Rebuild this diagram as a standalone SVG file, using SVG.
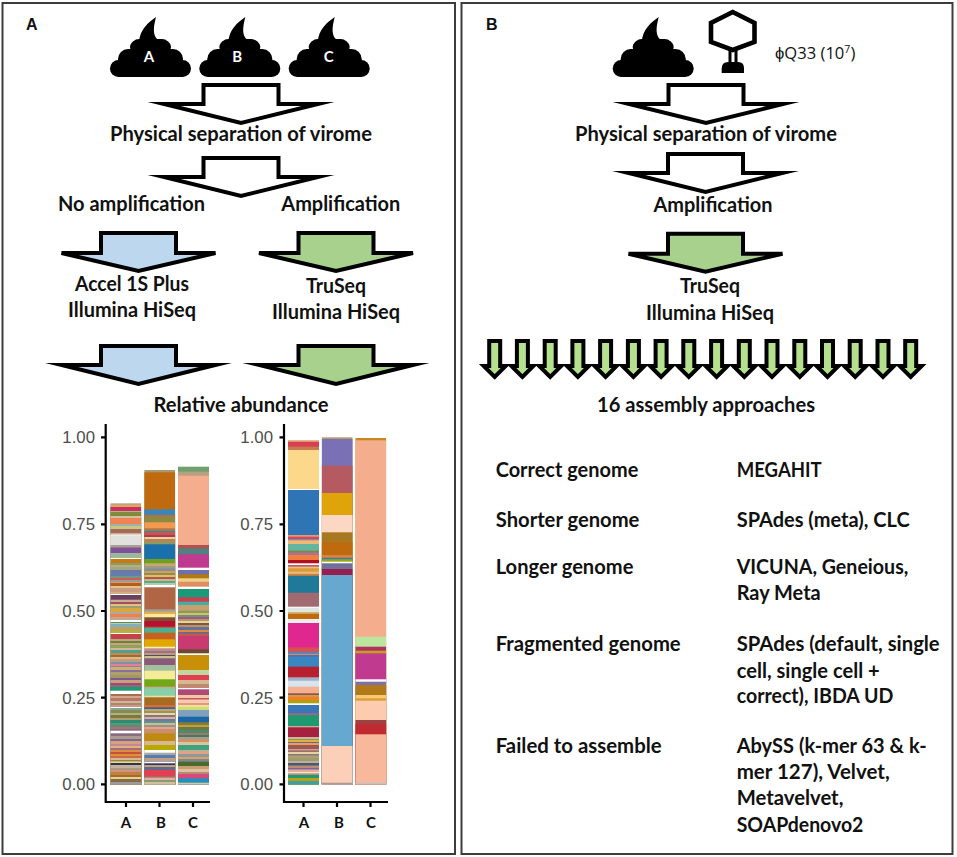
<svg xmlns="http://www.w3.org/2000/svg" width="957" height="857" viewBox="0 0 957 857">
<style>
text{font-family:"Lato","Open Sans",sans-serif;font-weight:700;font-size:20px;fill:#111;stroke:none}
.m{text-anchor:middle}
.p{font-family:"Liberation Sans",Arial,sans-serif;font-size:16px}
.w{fill:#fff;font-size:15px}
.y{font-family:"Liberation Sans",Arial,sans-serif;font-weight:400;font-size:16.8px;fill:#4d4d4d;text-anchor:end}
.x{font-size:15px;text-anchor:middle}
.f{fill:none;stroke:#3c3c3c;stroke-width:2}
.a{stroke:#000;stroke-width:4;stroke-miterlimit:12}
.q{stroke-miterlimit:3}
.n{fill:#fff}.b{fill:#bdd7ee}.g{fill:#a9d18e}.l{fill:#b5e08e}
.ax{fill:none;stroke:#000;stroke-width:2.2}
.s rect{width:31px;height:400px}
</style>
<defs>
<path id="big" d="M-37.5 2H37.5V21H77L0 40-77 21H-37.5Z"/>
<path id="nar" d="M-37.5 2H37.5V22H77L0 40-77 22H-37.5Z"/>
<path id="thin" d="M-5.5 2H5.5V27H11L0 38-11 27H-5.5Z"/>
<g id="poop">
<rect x="0" y="43" width="81" height="17" rx="8.5"/>
<rect x="8" y="32" width="65" height="22" rx="10"/>
<circle cx="14" cy="44" r="6"/><circle cx="67" cy="44" r="6"/>
<rect x="21" y="22" width="39" height="20" rx="8"/>
<circle cx="26" cy="30" r="6"/><circle cx="55" cy="30" r="6"/>
<path d="M29 25C30 12 38 6 46 0C44 8 43 14 45 19C46 22 49 23 52 25Z"/>
</g>
<clipPath id="c"><rect x="0" y="0" width="31" height="784.5"/></clipPath>
</defs>
<rect width="957" height="857" fill="#fff"/>
<g id="panel-a-frame"><rect class="f" x="2.5" y="3" width="452.5" height="851"/></g>
<g id="panel-b-frame"><rect class="f" x="461.5" y="3" width="491" height="851"/></g>

<g id="sample-a" transform="translate(110 17)"><use href="#poop"/><text class="m w" x="39" y="45">A</text></g>
<g id="sample-b" transform="translate(199.3 17)"><use href="#poop"/><text class="m w" x="38" y="45">B</text></g>
<g id="sample-c" transform="translate(288.7 17)"><use href="#poop"/><text class="m w" x="40" y="45">C</text></g>
<g id="sample-mix" transform="translate(612.7 17)"><use href="#poop"/></g>
<g id="phage">
<path d="M732.7 12L754.5 23V42L732.7 50L711 42V23Z" fill="none" stroke="#000" stroke-width="4.6"/>
<path d="M730 50V63M736 50V63" stroke="#000" stroke-width="3" fill="none"/>
<path d="M721.7 73V68Q722 62 728 62H738Q744 62 744 68V73Z"/>
<text x="775" y="59" style="font-family:'Open Sans',sans-serif;font-weight:400;font-size:16.6px">ϕQ33 (10<tspan dy="-6" font-size="10.5">7</tspan><tspan dy="6">)</tspan></text>
</g>

<g id="labels-a">
<text class="p" x="26" y="30">A</text>
<text class="m" x="241" y="141" textLength="262" lengthAdjust="spacingAndGlyphs">Physical separation of virome</text>
<text class="m" x="131.5" y="211" textLength="147" lengthAdjust="spacingAndGlyphs">No amplification</text>
<text class="m" x="340.8" y="211" textLength="119" lengthAdjust="spacingAndGlyphs">Amplification</text>
<text class="m" x="132" y="291" textLength="114" lengthAdjust="spacingAndGlyphs">Accel 1S Plus</text>
<text class="m" x="132" y="317" textLength="128" lengthAdjust="spacingAndGlyphs">Illumina HiSeq</text>
<text class="m" x="336" y="293" textLength="60" lengthAdjust="spacingAndGlyphs">TruSeq</text>
<text class="m" x="336" y="319" textLength="128" lengthAdjust="spacingAndGlyphs">Illumina HiSeq</text>
<text class="m" x="241" y="412" textLength="175" lengthAdjust="spacingAndGlyphs">Relative abundance</text>
</g>
<g id="labels-b">
<text class="p" x="486" y="30">B</text>
<text class="m" x="706" y="141" textLength="262" lengthAdjust="spacingAndGlyphs">Physical separation of virome</text>
<text class="m" x="713" y="211.5" textLength="119" lengthAdjust="spacingAndGlyphs">Amplification</text>
<text class="m" x="710" y="293" textLength="60" lengthAdjust="spacingAndGlyphs">TruSeq</text>
<text class="m" x="710" y="320" textLength="128" lengthAdjust="spacingAndGlyphs">Illumina HiSeq</text>
<text class="m" x="706" y="411.5" textLength="218" lengthAdjust="spacingAndGlyphs">16 assembly approaches</text>
</g>
<g id="table">
<text x="495.7" y="477" textLength="142.6" lengthAdjust="spacingAndGlyphs">Correct genome</text>
<text x="495.7" y="526.7" textLength="143.7" lengthAdjust="spacingAndGlyphs">Shorter genome</text>
<text x="495.7" y="574" textLength="137.7" lengthAdjust="spacingAndGlyphs">Longer genome</text>
<text x="495.7" y="651" textLength="185" lengthAdjust="spacingAndGlyphs">Fragmented genome</text>
<text x="495.7" y="752.7" textLength="166" lengthAdjust="spacingAndGlyphs">Failed to assemble</text>
<text x="736.7" y="477" textLength="85" lengthAdjust="spacingAndGlyphs">MEGAHIT</text>
<text x="736.7" y="526.7" textLength="173" lengthAdjust="spacingAndGlyphs">SPAdes (meta), CLC</text>
<text x="736.7" y="574" textLength="171.7" lengthAdjust="spacingAndGlyphs">VICUNA, Geneious,</text>
<text x="736.7" y="600" textLength="84" lengthAdjust="spacingAndGlyphs">Ray Meta</text>
<text x="736.7" y="651" textLength="203" lengthAdjust="spacingAndGlyphs">SPAdes (default, single</text>
<text x="736.7" y="677.7" textLength="143" lengthAdjust="spacingAndGlyphs">cell, single cell +</text>
<text x="736.7" y="703" textLength="156.7" lengthAdjust="spacingAndGlyphs">correct), IBDA UD</text>
<text x="736.7" y="752.7" textLength="190" lengthAdjust="spacingAndGlyphs">AbySS (k-mer 63 &amp; k-</text>
<text x="736.7" y="779" textLength="153" lengthAdjust="spacingAndGlyphs">mer 127), Velvet,</text>
<text x="736.7" y="805" textLength="106.7" lengthAdjust="spacingAndGlyphs">Metavelvet,</text>
<text x="736.7" y="831.7" textLength="126.7" lengthAdjust="spacingAndGlyphs">SOAPdenovo2</text>
</g>

<g id="connectors" class="a">
<use href="#big" class="n" x="241" y="83"/>
<use href="#big" class="n" x="241" y="156"/>
<use href="#nar" class="b q" x="138.5" y="231"/>
<use href="#nar" class="g q" x="336" y="231"/>
<use href="#big" class="b" x="138.5" y="344"/>
<use href="#big" class="g" x="336" y="344"/>
<use href="#big" class="n" x="706" y="83"/>
<use href="#big" class="n" x="705.5" y="152"/>
<use href="#nar" class="g q" x="705.5" y="231.7"/>
<g class="l">
<use href="#thin" x="494.7" y="339"/><use href="#thin" x="522.4" y="339"/><use href="#thin" x="550.2" y="339"/><use href="#thin" x="577.9" y="339"/>
<use href="#thin" x="605.6" y="339"/><use href="#thin" x="633.4" y="339"/><use href="#thin" x="661.1" y="339"/><use href="#thin" x="688.8" y="339"/>
<use href="#thin" x="716.6" y="339"/><use href="#thin" x="744.3" y="339"/><use href="#thin" x="772" y="339"/><use href="#thin" x="799.8" y="339"/>
<use href="#thin" x="827.5" y="339"/><use href="#thin" x="855.2" y="339"/><use href="#thin" x="883" y="339"/><use href="#thin" x="910.7" y="339"/>
</g>
</g>

<g id="chart-left">
<g class="s" clip-path="url(#c)" transform="translate(110.3 0)">
<rect y="503.3" fill="#b9a292"/><rect y="505" fill="#dfa94c"/><rect y="507" fill="#cf2b66"/><rect y="511" fill="#a5bb82"/><rect y="512" fill="#7f8a3c"/><rect y="516" fill="#cfc0a0"/><rect y="518" fill="#ef8354"/><rect y="524" fill="#9fb0b0"/><rect y="526" fill="#c9c97e"/><rect y="529" fill="#a56a5a"/><rect y="533" fill="#c9b08e"/><rect y="534.5" fill="#f7f7f2"/><rect y="535.5" fill="#e1e1de"/><rect y="545" fill="#a8a090"/><rect y="547.5" fill="#80509a"/><rect y="553" fill="#9cb89c"/><rect y="558" fill="#fff"/><rect y="559" fill="#c87a10"/><rect y="563" fill="#7fa070"/><rect y="565" fill="#c8a870"/><rect y="567" fill="#8fae8f"/><rect y="569" fill="#b0a070"/><rect y="570" fill="#6a78a8"/><rect y="574" fill="#5f7fb0"/><rect y="576" fill="#6f9a80"/><rect y="578" fill="#d05a5a"/><rect y="580" fill="#9a9a9a"/><rect y="582" fill="#e09a60"/><rect y="583" fill="#b0601a"/><rect y="586" fill="#e6c090"/><rect y="588" fill="#c89a80"/><rect y="592" fill="#d0b080"/><rect y="594" fill="#fff"/><rect y="595" fill="#6a4060"/><rect y="599" fill="#8a5a78"/><rect y="600" fill="#c8b090"/><rect y="602" fill="#a05060"/><rect y="604" fill="#e0c080"/><rect y="606" fill="#9aa070"/><rect y="608" fill="#d8a840"/><rect y="612" fill="#b0a8a0"/><rect y="614" fill="#f08050"/><rect y="617" fill="#c0a890"/><rect y="620" fill="#fff"/><rect y="622" fill="#2f9a78"/><rect y="623" fill="#e0c090"/><rect y="624" fill="#7fb0c0"/><rect y="627" fill="#c0a060"/><rect y="630" fill="#b5b040"/><rect y="633" fill="#fff"/><rect y="634" fill="#c8404a"/><rect y="639" fill="#a8b080"/><rect y="641" fill="#7a7a3a"/><rect y="643" fill="#c0a878"/><rect y="645" fill="#8fa060"/><rect y="648" fill="#d0b890"/><rect y="650" fill="#4fa090"/><rect y="653" fill="#c08a50"/><rect y="655" fill="#a06a30"/><rect y="657" fill="#d8b890"/><rect y="659" fill="#e09a50"/><rect y="660" fill="#b0a090"/><rect y="662" fill="#8090a0"/><rect y="664" fill="#e080a0"/><rect y="666" fill="#a08090"/><rect y="667" fill="#c8b070"/><rect y="670" fill="#8a70a0"/><rect y="672" fill="#b0a070"/><rect y="675" fill="#a09a60"/><rect y="678" fill="#7a5a90"/><rect y="680" fill="#c8a080"/><rect y="683" fill="#a04a70"/><rect y="684" fill="#b0a890"/><rect y="686" fill="#3f8a70"/><rect y="683.3" fill="#a04a70"/><rect y="685" fill="#8a6a80"/><rect y="687" fill="#1f9a70"/><rect y="691" fill="#f4f4ee"/><rect y="690.7" fill="#f4f4ee"/><rect y="690.7" fill="#1f9a70"/><rect y="691" fill="#fff"/><rect y="690.7" fill="#fff"/><rect y="690.7" fill="#1f9a70"/><rect y="691" fill="#fff"/><rect y="694" fill="#a8704a"/><rect y="696" fill="#d0a890"/><rect y="698" fill="#b87a60"/><rect y="701" fill="#d8b0a0"/><rect y="703" fill="#a09060"/><rect y="705" fill="#d89090"/><rect y="707" fill="#fff"/><rect y="708" fill="#7aaa9a"/><rect y="710" fill="#8a8a50"/><rect y="713" fill="#b0b080"/><rect y="715" fill="#7a7a40"/><rect y="718" fill="#b0a070"/><rect y="720" fill="#2f8a70"/><rect y="723" fill="#4f9a80"/><rect y="725" fill="#6a8a60"/><rect y="727" fill="#a07090"/><rect y="729" fill="#8a6a70"/><rect y="731" fill="#b0a0a0"/><rect y="733" fill="#7a6a90"/><rect y="735" fill="#9a7a80"/><rect y="737" fill="#6a7aa0"/><rect y="738" fill="#9a7a80"/><rect y="731" fill="#8a6a70"/><rect y="733" fill="#7a6a90"/><rect y="735" fill="#9a7a80"/><rect y="731" fill="#b0a0a0"/><rect y="730.7" fill="#fff"/><rect y="733.3" fill="#8a6a80"/><rect y="736" fill="#b09a90"/><rect y="739" fill="#7a6a90"/><rect y="741" fill="#d8a080"/><rect y="744" fill="#c08a90"/><rect y="746" fill="#e0b080"/><rect y="748" fill="#a07080"/><rect y="750" fill="#e08a40"/><rect y="752" fill="#c8503a"/><rect y="754" fill="#e09030"/><rect y="756" fill="#c86a50"/><rect y="758" fill="#d8b890"/><rect y="760" fill="#9a7a60"/><rect y="761" fill="#b8b050"/><rect y="763" fill="#d8d060"/><rect y="764" fill="#8a8a60"/><rect y="765" fill="#e8d880"/><rect y="761.7" fill="#e8d880"/><rect y="763" fill="#283858"/><rect y="765" fill="#c8b0a0"/><rect y="768" fill="#a89a80"/><rect y="770" fill="#d09080"/><rect y="772" fill="#c08040"/><rect y="775" fill="#a86a20"/><rect y="777" fill="#e0d0a0"/><rect y="779" fill="#8a6a40"/><rect y="782" fill="#9a9aa0"/>
</g>
<g class="s" clip-path="url(#c)" transform="translate(144.2 0)">
<rect y="470" fill="#a89a70"/><rect y="472.3" fill="#c06a10"/><rect y="509.3" fill="#3a86b8"/><rect y="515" fill="#c06a40"/><rect y="516.7" fill="#8a8a40"/><rect y="522.3" fill="#f49a50"/><rect y="528.3" fill="#b07a40"/><rect y="530.7" fill="#5080a0"/><rect y="532" fill="#c05a50"/><rect y="535" fill="#c03050"/><rect y="537" fill="#c8e0a0"/><rect y="539" fill="#e07050"/><rect y="541" fill="#8a9a60"/><rect y="544.3" fill="#1a70aa"/><rect y="559" fill="#70a020"/><rect y="563.3" fill="#c8a870"/><rect y="566" fill="#a09a80"/><rect y="568.3" fill="#8090a0"/><rect y="571" fill="#d8a040"/><rect y="573" fill="#8a8a70"/><rect y="575" fill="#e8c040"/><rect y="577" fill="#a05a70"/><rect y="579" fill="#e0b070"/><rect y="581" fill="#4ab090"/><rect y="583" fill="#b8c8b0"/><rect y="585" fill="#fff"/><rect y="587.3" fill="#b06545"/><rect y="609.3" fill="#a0a0a0"/><rect y="611.7" fill="#e8b040"/><rect y="614" fill="#fce8a0"/><rect y="617.3" fill="#7a5030"/><rect y="621" fill="#b81030"/><rect y="626.7" fill="#a06a50"/><rect y="628" fill="#4ab090"/><rect y="632.7" fill="#c86020"/><rect y="639.3" fill="#e0a800"/><rect y="646.7" fill="#f8f0b0"/><rect y="648.3" fill="#c08a90"/><rect y="651" fill="#8a7a90"/><rect y="653" fill="#e09060"/><rect y="655" fill="#2f5a80"/><rect y="656" fill="#c8c090"/><rect y="658.3" fill="#8a5a78"/><rect y="665" fill="#a0c0a0"/><rect y="670.7" fill="#f5ec98"/><rect y="679.3" fill="#70a818"/><rect y="686.7" fill="#c8a890"/><rect y="688.3" fill="#85d0a8"/><rect y="695.7" fill="#e8e0a0"/><rect y="697.3" fill="#a86a20"/><rect y="705" fill="#e06a30"/><rect y="707.3" fill="#1a70aa"/><rect y="709" fill="#d0a060"/><rect y="711" fill="#a09060"/><rect y="713" fill="#e0d8b0"/><rect y="715" fill="#8a7a60"/><rect y="717" fill="#d0b0b0"/><rect y="719" fill="#8070a0"/><rect y="721" fill="#4f9a90"/><rect y="723" fill="#d8b890"/><rect y="725" fill="#8a9a90"/><rect y="727" fill="#f0a080"/><rect y="729" fill="#c89070"/><rect y="733.3" fill="#c08a10"/><rect y="741" fill="#d8b890"/><rect y="745" fill="#b8a800"/><rect y="750" fill="#fff"/><rect y="752.7" fill="#a8a8a8"/><rect y="755" fill="#5080b0"/><rect y="758" fill="#c89a80"/><rect y="761" fill="#6080a0"/><rect y="761.7" fill="#fff"/><rect y="763.3" fill="#283868"/><rect y="765" fill="#c8a070"/><rect y="767" fill="#606a90"/><rect y="770" fill="#e04050"/><rect y="776.7" fill="#a09080"/><rect y="778" fill="#e0b0a0"/><rect y="780" fill="#8a9a70"/><rect y="782" fill="#d0c0a0"/>
</g>
<g class="s" clip-path="url(#c)" transform="translate(178 0)">
<rect y="466.7" fill="#70a070"/><rect y="471.7" fill="#b8a080"/><rect y="475.7" fill="#f4ae8e"/><rect y="545" fill="#b05050"/><rect y="548.3" fill="#508080"/><rect y="554.3" fill="#c03a90"/><rect y="567.7" fill="#fff"/><rect y="570" fill="#7070b0"/><rect y="574.3" fill="#b07a10"/><rect y="578.3" fill="#f0d090"/><rect y="581.7" fill="#e09060"/><rect y="586.7" fill="#fff"/><rect y="589" fill="#1a9a78"/><rect y="597.3" fill="#c84050"/><rect y="601.7" fill="#40b0a0"/><rect y="605" fill="#c8a070"/><rect y="610.7" fill="#8a9a60"/><rect y="613" fill="#d8c060"/><rect y="615" fill="#5a9a80"/><rect y="617" fill="#c04a80"/><rect y="619" fill="#a0a070"/><rect y="621" fill="#f0d090"/><rect y="623" fill="#7a5a40"/><rect y="625" fill="#c09060"/><rect y="627" fill="#6070a0"/><rect y="630" fill="#e08a40"/><rect y="632" fill="#5070a0"/><rect y="633.3" fill="#c05a50"/><rect y="636" fill="#c83a70"/><rect y="649.3" fill="#6a4a30"/><rect y="653.3" fill="#fff"/><rect y="655" fill="#c89008"/><rect y="670" fill="#c0d8a0"/><rect y="675" fill="#e04050"/><rect y="680" fill="#d8b890"/><rect y="684" fill="#c08a70"/><rect y="688" fill="#fff"/><rect y="689.3" fill="#b04878"/><rect y="695" fill="#f0c8a0"/><rect y="698" fill="#c05a60"/><rect y="699.5" fill="#f8c8b0"/><rect y="703" fill="#e09a80"/><rect y="705" fill="#f0e0a0"/><rect y="707" fill="#d0e070"/><rect y="710" fill="#80a0c0"/><rect y="716.7" fill="#1a68a8"/><rect y="722.3" fill="#8a7a30"/><rect y="725" fill="#c0a040"/><rect y="727" fill="#6a7a40"/><rect y="730" fill="#4f8a70"/><rect y="733" fill="#a07a60"/><rect y="735" fill="#3f7a70"/><rect y="737" fill="#b09a80"/><rect y="740" fill="#e08a60"/><rect y="742" fill="#d0c8a0"/><rect y="745" fill="#40a080"/><rect y="750" fill="#c0b090"/><rect y="752" fill="#e8a080"/><rect y="754" fill="#8a9aa0"/><rect y="757" fill="#e0a060"/><rect y="759" fill="#7a8a90"/><rect y="761.7" fill="#4a6a30"/><rect y="766" fill="#c8a070"/><rect y="769" fill="#e0c0a0"/><rect y="772" fill="#b09070"/><rect y="774" fill="#d8487a"/><rect y="778.3" fill="#2090c0"/><rect y="782.7" fill="#d8c8a0"/>
</g>
<path class="ax" d="M105.7 424V802H210M101 437.3h4.7M101 524.3h4.7M101 611h4.7M101 697.7h4.7M101 784.3h4.7M126 802v5M159.5 802v5M193 802v5"/>
<text class="y" x="95" y="443">1.00</text><text class="y" x="95" y="530">0.75</text><text class="y" x="95" y="617">0.50</text><text class="y" x="95" y="704">0.25</text><text class="y" x="95" y="790">0.00</text>
<text class="x" x="126" y="828">A</text><text class="x" x="161" y="828">B</text><text class="x" x="193" y="828">C</text>
</g>

<g id="chart-right">
<g class="s" clip-path="url(#c)" transform="translate(288 0)">
<rect y="440" fill="#e8b88a"/><rect y="441.7" fill="#d8404f"/><rect y="446.7" fill="#c87a50"/><rect y="450" fill="#fcd98a"/><rect y="489" fill="#fff"/><rect y="490" fill="#2f74b5"/><rect y="535" fill="#d8a070"/><rect y="536.7" fill="#e84050"/><rect y="539" fill="#6a90c0"/><rect y="540.3" fill="#f0b870"/><rect y="544" fill="#64b5a0"/><rect y="550.7" fill="#7a8a40"/><rect y="552.3" fill="#b07090"/><rect y="555" fill="#f08040"/><rect y="560" fill="#b01020"/><rect y="563.3" fill="#fff"/><rect y="565" fill="#c06060"/><rect y="566.7" fill="#e0c090"/><rect y="568.3" fill="#e09a30"/><rect y="571.7" fill="#e0c090"/><rect y="573.7" fill="#e08030"/><rect y="575.7" fill="#1f7a9a"/><rect y="592.7" fill="#a06a70"/><rect y="606.7" fill="#fff"/><rect y="607.7" fill="#dfe5e0"/><rect y="612.3" fill="#d0a050"/><rect y="614" fill="#c06a10"/><rect y="619" fill="#eee"/><rect y="623" fill="#e0278f"/><rect y="647.3" fill="#d85050"/><rect y="651.7" fill="#6a80b0"/><rect y="654" fill="#c89070"/><rect y="655" fill="#5070b0"/><rect y="656.7" fill="#3a86c0"/><rect y="666.7" fill="#b82030"/><rect y="677.3" fill="#a0b0c8"/><rect y="680.7" fill="#d8e4ec"/><rect y="686.7" fill="#f4b090"/><rect y="693.3" fill="#8a5a40"/><rect y="695" fill="#d09a60"/><rect y="696.7" fill="#f08020"/><rect y="700" fill="#b0a010"/><rect y="703.3" fill="#fff"/><rect y="705" fill="#3878b8"/><rect y="713.3" fill="#b06080"/><rect y="715" fill="#1f9a70"/><rect y="726" fill="#c8b090"/><rect y="727.3" fill="#a82040"/><rect y="737.3" fill="#f0e8d0"/><rect y="738.5" fill="#8a9a50"/><rect y="740" fill="#e0b040"/><rect y="742" fill="#6a6a90"/><rect y="743" fill="#f09a60"/><rect y="745" fill="#9a5a50"/><rect y="749" fill="#d0a0a0"/><rect y="750.3" fill="#a07060"/><rect y="752" fill="#e8d0a0"/><rect y="754" fill="#8a7a80"/><rect y="755.5" fill="#b0a070"/><rect y="758" fill="#a09a70"/><rect y="761" fill="#c0b090"/><rect y="763" fill="#405a80"/><rect y="765.5" fill="#c08a70"/><rect y="768" fill="#8060a0"/><rect y="769.5" fill="#e0b090"/><rect y="772" fill="#fce0d0"/><rect y="773.3" fill="#b09080"/><rect y="775" fill="#1f9a70"/><rect y="778" fill="#b8a010"/><rect y="781" fill="#40a0a0"/>
</g>
<g class="s" clip-path="url(#c)" transform="translate(321.7 0)">
<rect y="437.3" fill="#b89a70"/><rect y="439" fill="#7a70b5"/><rect y="465.7" fill="#b55a60"/><rect y="493" fill="#dfa40a"/><rect y="515" fill="#fcd8c4"/><rect y="532.3" fill="#a87820"/><rect y="542.3" fill="#c06a10"/><rect y="555" fill="#e08040"/><rect y="557.7" fill="#3a80a8"/><rect y="559.3" fill="#98a810"/><rect y="561.7" fill="#fff"/><rect y="563.3" fill="#70709a"/><rect y="569" fill="#952050"/><rect y="575" fill="#66a8cf"/><rect y="746" fill="#fccfb8"/><rect y="782.7" fill="#b09a90"/>
</g>
<g class="s" clip-path="url(#c)" transform="translate(355.3 0)">
<rect y="438" fill="#c88820"/><rect y="440.3" fill="#f4ae8e"/><rect y="636.7" fill="#bce6a0"/><rect y="646.7" fill="#b03060"/><rect y="650.7" fill="#c8a020"/><rect y="653.3" fill="#c03a90"/><rect y="679.3" fill="#fff"/><rect y="681.7" fill="#8070a8"/><rect y="685" fill="#b07a18"/><rect y="695" fill="#f8c878"/><rect y="698.3" fill="#d8a030"/><rect y="700.7" fill="#fccbb0"/><rect y="720" fill="#a04040"/><rect y="724.3" fill="#c02a30"/><rect y="734.3" fill="#f8b89c"/><rect y="782.7" fill="#c8c0c0"/>
</g>
<path class="ax" d="M284 424V802H388M279.5 437.3h4.5M279.5 524.3h4.5M279.5 611h4.5M279.5 697.7h4.5M279.5 784.3h4.5M303.5 802v5M337 802v5M370.5 802v5"/>
<text class="y" x="273" y="443">1.00</text><text class="y" x="273" y="530">0.75</text><text class="y" x="273" y="617">0.50</text><text class="y" x="273" y="704">0.25</text><text class="y" x="273" y="790">0.00</text>
<text class="x" x="304" y="828">A</text><text class="x" x="339" y="828">B</text><text class="x" x="371" y="828">C</text>
</g>
</svg>
